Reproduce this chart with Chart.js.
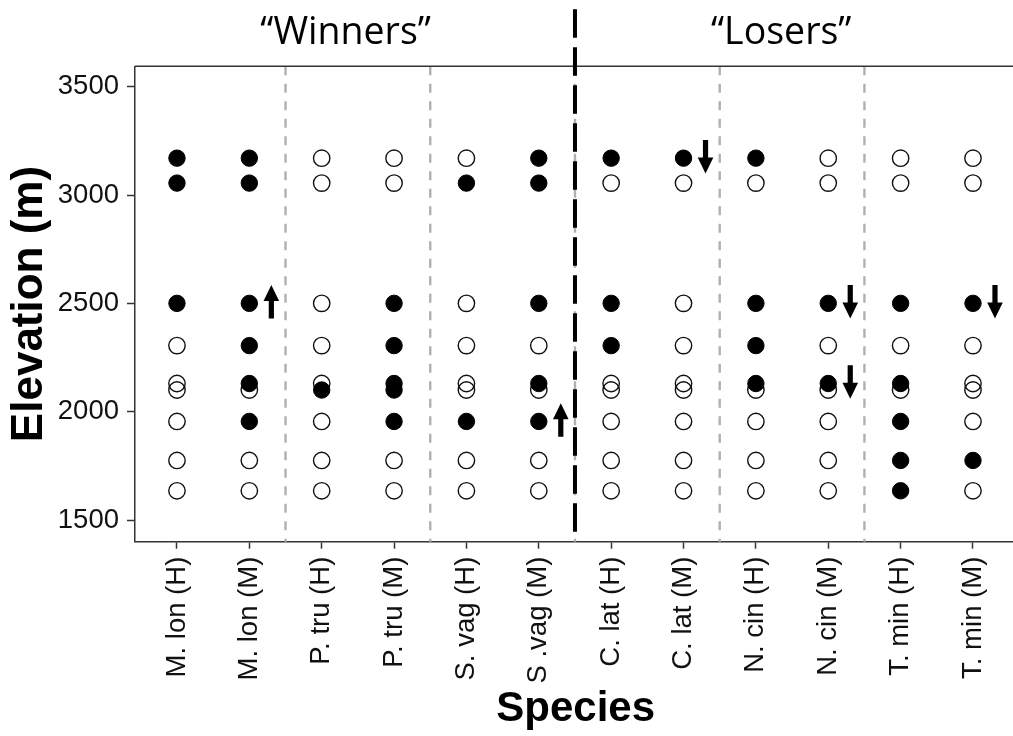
<!DOCTYPE html>
<html>
<head>
<meta charset="utf-8">
<script src="https://cdn.jsdelivr.net/npm/chart.js@4.4.1/dist/chart.umd.min.js"></script>
<style>
  html, body { margin: 0; padding: 0; background: #fff; overflow: hidden; }
  canvas { display: block; }
</style>
</head>
<body>
<canvas id="chart" width="1026" height="736"></canvas>
<script>
// Species x site combinations along the x axis
const species = [
  'M. lon (H)', 'M. lon (M)', 'P. tru (H)', 'P. tru (M)', 'S. vag (H)', 'S .vag (M)',
  'C. lat (H)', 'C. lat (M)', 'N. cin (H)', 'N. cin (M)', 'T. min (H)', 'T. min (M)'
];

// Survey elevations (m)
const elevations = [3170, 3055, 2500, 2305, 2130, 2100, 1955, 1775, 1635];

// 1 = recorded, 0 = not recorded, one entry per survey elevation above
const mLonH = [1, 1, 1, 0, 0, 0, 0, 0, 0];
const mLonM = [1, 1, 1, 1, 1, 0, 1, 0, 0];
const pTruH = [0, 0, 0, 0, 0, 1, 0, 0, 0];
const pTruM = [0, 0, 1, 1, 1, 1, 1, 0, 0];
const sVagH = [0, 1, 0, 0, 0, 0, 1, 0, 0];
const sVagM = [1, 1, 1, 0, 1, 0, 1, 0, 0];
const cLatH = [1, 0, 1, 1, 0, 0, 0, 0, 0];
const cLatM = [1, 0, 0, 0, 0, 0, 0, 0, 0];
const nCinH = [1, 0, 1, 1, 1, 0, 0, 0, 0];
const nCinM = [0, 0, 1, 0, 1, 0, 0, 0, 0];
const tMinH = [0, 0, 1, 0, 1, 0, 1, 1, 1];
const tMinM = [0, 0, 1, 0, 0, 0, 0, 1, 0];

// Y axis tick values (m)
const elevationTicks = [1500, 2000, 2500, 3000, 3500];

// Range shift arrows: species position (1-based), elevation, direction
const arrowSpecies = [2, 6, 8, 10, 10, 12];
const arrowElevation = [2500, 1955, 3170, 2500, 2130, 2500];
const arrowDirection = ['up', 'up', 'down', 'down', 'down', 'down'];

// Group headings and the boundaries between species
const groupNames = ['\u201CWinners\u201D', '\u201CLosers\u201D'];
const groupLabelAt = [3.33, 9.35];
const speciesBreaks = [2.5, 4.5, 6.5, 8.5, 10.5];
const groupBreak = 6.5;

const presence = [mLonH, mLonM, pTruH, pTruM, sVagH, sVagM, cLatH, cLatM, nCinH, nCinM, tMinH, tMinM];
const recorded = [];
const notRecorded = [];
presence.forEach((row, i) => {
  row.forEach((v, j) => {
    (v ? recorded : notRecorded).push({ x: i + 1, y: elevations[j] });
  });
});

const sansFamily = "'Liberation Sans', Arial, sans-serif";

function drawArrow(ctx, x, cy, dir) {
  const half = 16.75, headLen = 16, headHalf = 7.8, shaftHalf = 2.6;
  const s = dir === 'up' ? -1 : 1;
  const tip = cy + s * half;
  const tail = cy - s * half;
  const headBase = tip - s * headLen;
  ctx.beginPath();
  ctx.moveTo(x - shaftHalf, tail);
  ctx.lineTo(x - shaftHalf, headBase);
  ctx.lineTo(x - headHalf, headBase);
  ctx.lineTo(x, tip);
  ctx.lineTo(x + headHalf, headBase);
  ctx.lineTo(x + shaftHalf, headBase);
  ctx.lineTo(x + shaftHalf, tail);
  ctx.closePath();
  ctx.fill();
}

const decorations = {
  id: 'decorations',
  beforeDatasetsDraw(chart) {
    const { ctx, chartArea, scales } = chart;
    ctx.save();
    ctx.strokeStyle = '#b0b0b0';
    ctx.lineWidth = 2.4;
    ctx.setLineDash([9, 8.5]);
    speciesBreaks.forEach(b => {
      const x = scales.x.getPixelForValue(b);
      ctx.beginPath();
      ctx.moveTo(x, chartArea.top);
      ctx.lineTo(x, chartArea.bottom);
      ctx.stroke();
    });
    ctx.restore();
  },
  afterDraw(chart) {
    const { ctx, chartArea, scales, width } = chart;
    ctx.save();
    // top frame line
    ctx.strokeStyle = '#333';
    ctx.lineWidth = 1.5;
    ctx.beginPath();
    ctx.moveTo(chartArea.left, chartArea.top);
    ctx.lineTo(width, chartArea.top);
    ctx.stroke();

    // divider between the two groups
    const gx = scales.x.getPixelForValue(groupBreak);
    ctx.strokeStyle = '#000';
    ctx.lineWidth = 4;
    ctx.setLineDash([28.5, 9.5]);
    ctx.beginPath();
    ctx.moveTo(gx, chartArea.top - 57);
    ctx.lineTo(gx, chartArea.bottom - 10);
    ctx.stroke();
    ctx.setLineDash([]);

    // group headings
    ctx.fillStyle = '#000';
    ctx.font = "37.5px 'Open Sans', 'Noto Sans', sans-serif";
    ctx.textAlign = 'center';
    ctx.textBaseline = 'alphabetic';
    groupNames.forEach((name, i) => {
      ctx.fillText(name, scales.x.getPixelForValue(groupLabelAt[i]), chartArea.top - 22);
    });

    // range shift arrows
    ctx.fillStyle = '#000';
    arrowSpecies.forEach((sp, i) => {
      const x = scales.x.getPixelForValue(sp) + 22;
      const cy = scales.y.getPixelForValue(arrowElevation[i]) - 1.5;
      drawArrow(ctx, x, cy, arrowDirection[i]);
    });
    ctx.restore();
  }
};

new Chart(document.getElementById('chart'), {
  type: 'scatter',
  data: {
    datasets: [
      {
        label: 'recorded',
        data: recorded,
        pointRadius: 8.2,
        pointHoverRadius: 8.2,
        pointBackgroundColor: '#000',
        pointBorderColor: '#000',
        pointBorderWidth: 1,
        order: 0
      },
      {
        label: 'not recorded',
        data: notRecorded,
        pointRadius: 8.2,
        pointHoverRadius: 8.2,
        pointBackgroundColor: 'rgba(0,0,0,0)',
        pointBorderColor: '#111',
        pointBorderWidth: 1.4,
        order: 1
      }
    ]
  },
  options: {
    responsive: false,
    animation: false,
    devicePixelRatio: 1,
    events: [],
    layout: { padding: { top: 66.3, right: 2, left: 0, bottom: 0 } },
    plugins: {
      legend: { display: false },
      tooltip: { enabled: false }
    },
    scales: {
      x: {
        type: 'linear',
        min: 0.42,
        max: 12.6,
        afterBuildTicks: s => { s.ticks = species.map((_, i) => ({ value: i + 1 })); },
        afterFit: s => { s.height = 194.3; },
        ticks: {
          callback: v => species[v - 1],
          autoSkip: false,
          minRotation: 90,
          maxRotation: 90,
          padding: 8,
          color: '#111',
          font: { family: sansFamily, size: 27.5 }
        },
        grid: { drawOnChartArea: false, drawTicks: true, tickLength: 7, tickColor: '#333', tickWidth: 1.5 },
        border: { display: true, color: '#333', width: 1.5 },
        title: {
          display: true,
          text: 'Species',
          color: '#000',
          font: { family: sansFamily, size: 42, weight: 'bold' },
          padding: { top: 0, bottom: 1 }
        }
      },
      y: {
        type: 'linear',
        min: 1400,
        max: 3594,
        afterBuildTicks: s => { s.ticks = elevationTicks.map(v => ({ value: v })); },
        afterFit: s => { s.width = 135; },
        ticks: {
          callback: v => String(v),
          padding: 8,
          color: '#111',
          font: { family: sansFamily, size: 27.5 }
        },
        grid: { drawOnChartArea: false, drawTicks: true, tickLength: 8, tickColor: '#333', tickWidth: 1.5 },
        border: { display: true, color: '#333', width: 1.5 },
        title: {
          display: true,
          text: 'Elevation (m)',
          color: '#000',
          font: { family: sansFamily, size: 44, weight: 'bold' },
          padding: { top: 3.4, bottom: 0 }
        }
      }
    }
  },
  plugins: [decorations]
});
</script>
</body>
</html>
